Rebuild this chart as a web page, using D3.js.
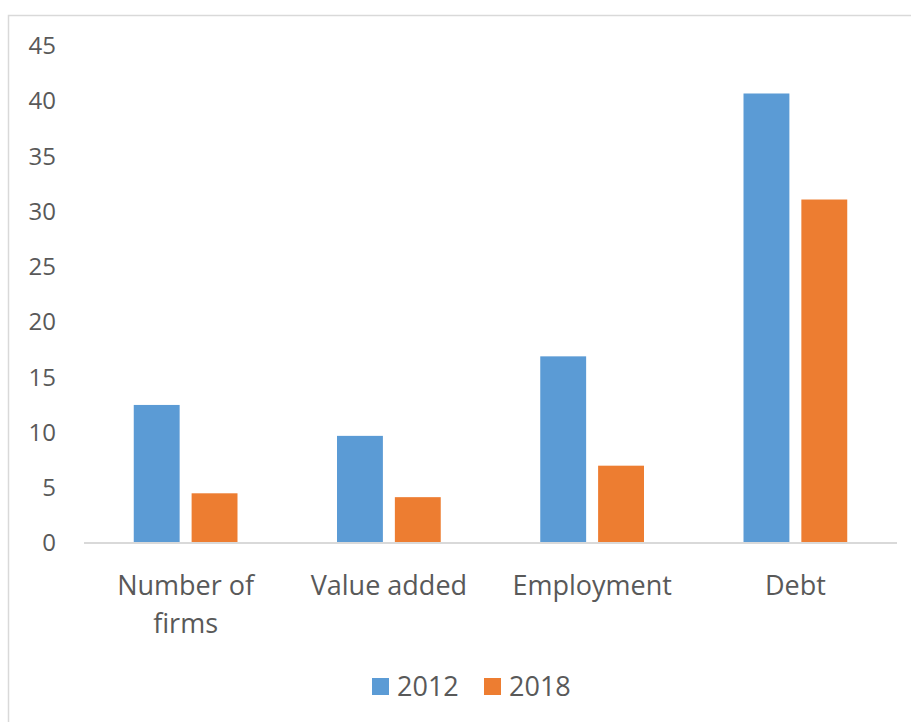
<!DOCTYPE html>
<html>
<head>
<meta charset="utf-8">
<script src="https://cdn.jsdelivr.net/npm/d3@7"></script>
<style>
  body { margin: 0; background: #fff; }
  text { font-family: "Open Sans", Lato, sans-serif; fill: #595959; }
</style>
</head>
<body>
<div id="main"></div>
<script>
const categories = ["Number of firms", "Value added", "Employment", "Debt"]
const series = ["2012", "2018"]
const values2012 = [12.5, 9.7, 16.9, 40.7]
const values2018 = [4.5, 4.15, 7.0, 31.1]
const yTicks = [0, 5, 10, 15, 20, 25, 30, 35, 40, 45]
const colors = ["#5b9bd5", "#ed7d31"]

const W = 911, H = 722
const svg = d3.select("#main").append("svg").attr("width", W).attr("height", H)

// chart frame
svg.append("rect").attr("x", 8.5).attr("y", 15.5).attr("width", W + 20).attr("height", H + 20)
  .attr("fill", "none").attr("stroke", "#d9d9d9").attr("stroke-width", 1.5)

const x = d3.scaleBand().domain(categories).range([84, 897])
// bar 46px, gap 12px inside a ~203px band
const inner = d3.scaleBand().domain(series).range([0, x.bandwidth()])
  .paddingInner(12 / 58).paddingOuter(0.86)
const y = d3.scaleLinear().domain([0, 45]).range([543, 46])

const rows = categories.map((c, i) => ({ cat: c, vals: [values2012[i], values2018[i]] }))

const g = svg.append("g")
g.selectAll("g.grp").data(rows).enter().append("g").attr("class", "grp")
  .attr("transform", d => `translate(${x(d.cat)},0)`)
  .selectAll("rect").data(d => d.vals.map((v, k) => ({ s: series[k], v: v, k: k })))
  .enter().append("rect")
  .attr("x", d => inner(d.s))
  .attr("width", inner.bandwidth())
  .attr("y", d => y(d.v))
  .attr("height", d => y(0) - y(d.v))
  .attr("fill", d => colors[d.k])

// baseline
svg.append("line").attr("x1", 84).attr("x2", 897).attr("y1", y(0)).attr("y2", y(0))
  .attr("stroke", "#d9d9d9").attr("stroke-width", 2)

// y axis, labels only
const yAxis = svg.append("g").attr("transform", "translate(56,0)")
  .call(d3.axisLeft(y).tickValues(yTicks).tickSize(0).tickPadding(0))
yAxis.select(".domain").remove()
yAxis.selectAll("text").style("font-size", "24px").style("font-family", null).attr("fill", null)

// category labels, wrapped
function wrap(sel, width) {
  sel.each(function () {
    const t = d3.select(this)
    const words = t.text().split(" ")
    t.text(null)
    let line = []
    let tspan = t.append("tspan").attr("x", 0).attr("dy", 0)
    words.forEach(w => {
      line.push(w)
      tspan.text(line.join(" "))
      if (tspan.node().getComputedTextLength() > width && line.length > 1) {
        line.pop()
        tspan.text(line.join(" "))
        line = [w]
        tspan = t.append("tspan").attr("x", 0).attr("dy", 38).text(w)
      }
    })
  })
}
svg.append("g").selectAll("text").data(categories).enter().append("text")
  .attr("transform", d => `translate(${x(d) + x.bandwidth() / 2},595)`)
  .attr("text-anchor", "middle").style("font-size", "27px")
  .text(d => d)
  .call(wrap, 180)

// legend
const leg = svg.append("g").attr("transform", "translate(372,678)")
const item = leg.selectAll("g").data(series).enter().append("g")
  .attr("transform", (d, i) => `translate(${i * 112},0)`)
item.append("rect").attr("width", 17).attr("height", 17).attr("fill", (d, i) => colors[i])
item.append("text").attr("x", 25).attr("y", 18).style("font-size", "27px").text(d => d)
</script>
</body>
</html>
